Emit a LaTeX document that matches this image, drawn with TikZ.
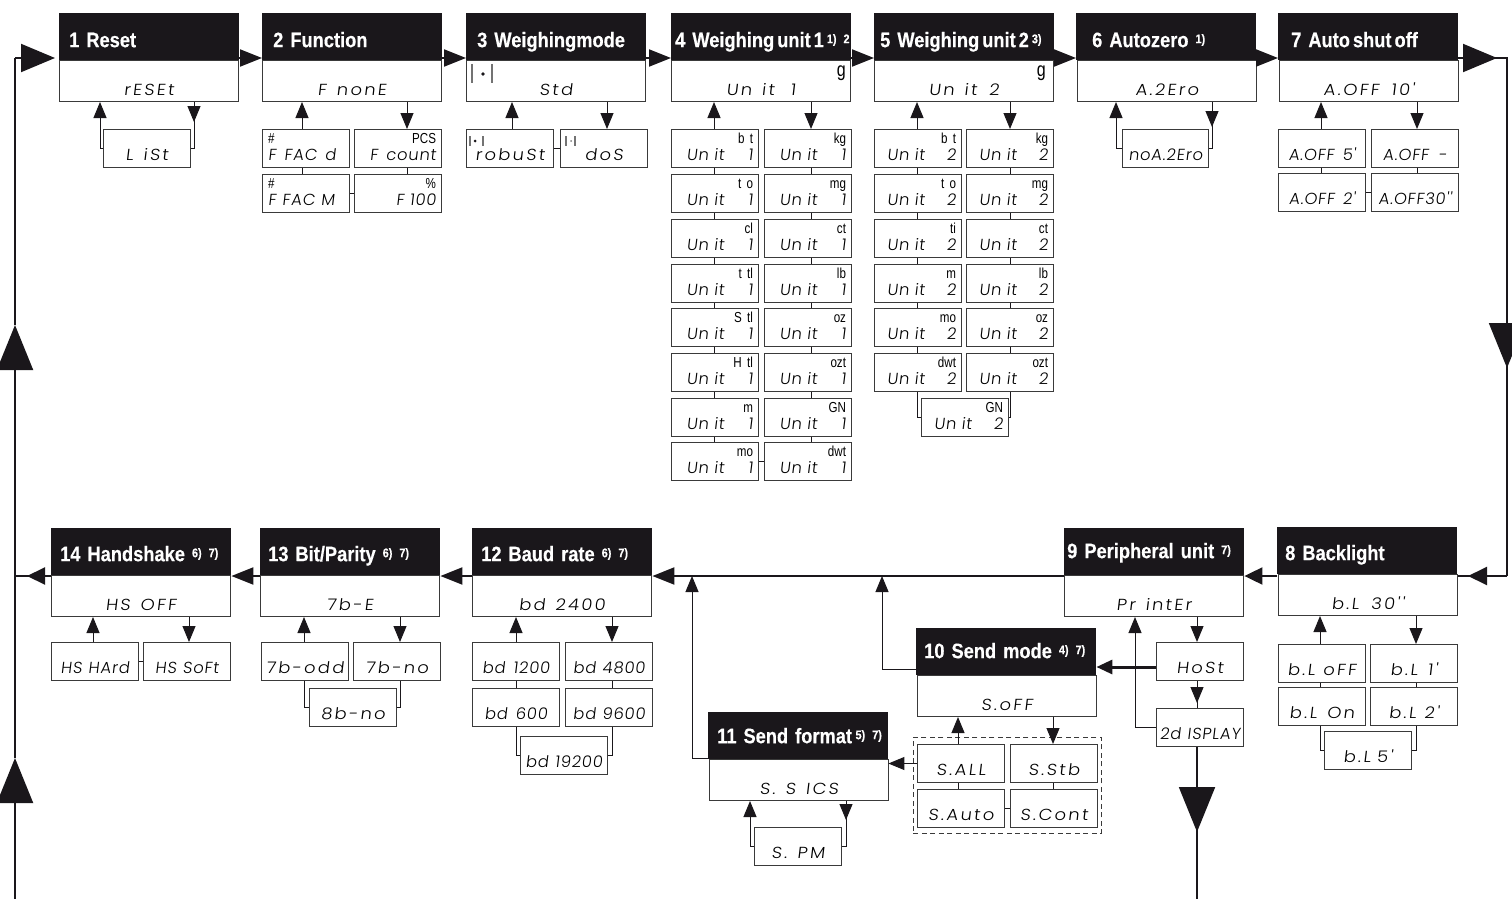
\documentclass[tikz,border=0pt]{standalone}
\usepackage{fontspec}
\usetikzlibrary{arrows.meta}
\newfontfamily\titlefont[FakeStretch=0.87,FakeBold=0.4]{Liberation Sans Bold}
\newfontfamily\unitfont[FakeStretch=0.8]{Liberation Sans}
\newfontfamily\lcdfont[FakeSlant=0.12,FakeStretch=1.12,LetterSpace=14,WordSpace=1.4]{Poppins Light}
\newfontfamily\lcdtight[FakeSlant=0.12,FakeStretch=1.02,LetterSpace=5,WordSpace=1.2]{Poppins Light}
\definecolor{inkblack}{HTML}{1A171B}
\definecolor{boxgray}{HTML}{3A3A3A}
\newcommand{\ulab}[1]{{\unitfont\fontsize{14.5}{14.5}\selectfont #1}}
\newcommand{\ftn}[1]{\raisebox{4pt}{\fontsize{12.5}{12.5}\selectfont #1}}
\newcommand{\unitone}{Un it\hspace{24pt}1\hspace*{7pt}}
\newcommand{\unittwo}{Un it\hspace{22pt}2\hspace*{7pt}}
\begin{document}
\begin{tikzpicture}[
    x=1pt, y=-1pt,
    titlebox/.style={
      fill=inkblack, text=white, anchor=north west, inner sep=0pt,
      text width=180pt, align=left, text height=34pt, text depth=13pt,
      font=\titlefont\fontsize{21}{21}\selectfont
    },
    lowtitle/.style={titlebox, text height=33pt, text depth=14pt},
    bodybox/.style={
      draw=boxgray, line width=1pt, fill=white, anchor=north west, inner sep=0pt,
      minimum width=179pt, text height=35pt, text depth=6pt,
      font=\lcdfont\fontsize{16}{17}\selectfont
    },
    lcdbox/.style={
      draw=boxgray, line width=1pt, fill=white, anchor=north west, inner sep=0pt,
      minimum width=87pt, text height=31pt, text depth=7pt,
      font=\lcdfont\fontsize{16}{17}\selectfont
    },
    tightbox/.style={lcdbox, font=\lcdtight\fontsize{16}{17}\selectfont},
    unitbox/.style={
      tightbox, text width=76pt, align=right, text height=14pt, text depth=24pt
    },
    gmark/.style={inner sep=0pt, anchor=north east, font=\unitfont\fontsize{20}{20}\selectfont},
    grpbox/.style={draw=boxgray, dash pattern=on 5pt off 3.5pt, line width=0.8pt, anchor=north west, inner sep=0pt},
    link/.style={draw=inkblack, line width=1pt},
    uptip/.style={link, -{Triangle[length=16pt,width=13pt]}},
    flowtip/.style={draw=inkblack, line width=2pt, -{Triangle[length=22pt,width=17pt]}},
    mainline/.style={draw=inkblack, line width=2pt},
    bigtip/.style={mainline, -{Triangle[length=45pt,width=36pt]}},
    widetip/.style={mainline, -{Triangle[length=34pt,width=28pt]}},
    panbar/.style={line width=1.2pt, black!55}
  ]
  \clip (0,0) rectangle (1512,899);
  \coordinate (rowa) at (0,58);
  \coordinate (rowb) at (0,576);

  % upper row
  \node[titlebox] (t1) at (59,13) {\hspace*{10pt}1 Reset};
  \node[titlebox] (t2) at (262,13) {\hspace*{11pt}2 Function};
  \node[titlebox] (t3) at (466,13) {\hspace*{11pt}3 Weighingmode};
  \node[titlebox] (t4) at (671,13) {\hspace*{4pt}4 Weighing\hspace{3pt}unit\hspace{3pt}1\hspace{3pt}\rlap{\ftn{1) 2}}};
  \node[titlebox] (t5) at (874,13) {\hspace*{6pt}5 Weighing\hspace{3pt}unit\hspace{3pt}2\hspace{3pt}\ftn{3)}};
  \node[titlebox] (t6) at (1076,13) {\hspace*{16pt}6 Autozero \ftn{1)}};
  \node[titlebox] (t7) at (1278,13) {\hspace*{13pt}7 Auto\hspace{3pt}shut\hspace{3pt}off};

  \node[bodybox] (reset) at (59,60) {rESEt};
  \node[bodybox] (fnone) at (262,60) {F nonE};
  \node[bodybox] (std) at (466,60) {Std};
  \node[bodybox] (unita) at (671,60) {Un it\hspace{16pt}1};
  \node[bodybox] (unitb) at (874,60) {Un it\hspace{12pt}2};
  \node[bodybox] (azero) at (1077,60) {A.2Ero};
  \node[bodybox] (aoff) at (1279,60) {A.OFF\hspace{12pt}10'};
  \node[gmark] (ga) at (846,66) {g};
  \node[gmark] (gb) at (1046,66) {g};

  \node[lcdbox] (list) at (103,129) {L iSt};
  \node[unitbox, align=left] (ffacd) at (262,129) {\ulab{\#}\\F\hspace{8pt}FAC\hspace{8pt}d};
  \node[unitbox] (fcount) at (354,129) {\ulab{PCS}\\F\hspace{8pt}count};
  \node[unitbox, align=left] (ffacm) at (262,174) {\ulab{\#}\\F\hspace{6pt}FAC\hspace{6pt}M};
  \node[unitbox] (fhund) at (354,174) {\ulab{\%}\\F 100\hspace*{13pt}};
  \node[lcdbox] (robust) at (466,129) {robuSt};
  \node[lcdbox] (dos) at (560,129) {doS};
  \node[tightbox, minimum width=86pt] (nozero) at (1122,129) {noA.2Ero};
  \node[tightbox] (off5) at (1278,129) {A.OFF\hspace{8pt}5'};
  \node[tightbox] (offd) at (1371,129) {A.OFF\hspace{10pt}-};
  \node[tightbox] (off2) at (1278,173) {A.OFF\hspace{8pt}2'};
  \node[tightbox] (off30) at (1371,173) {A.OFF30''};

  % unit columns
  \node[unitbox] (aa) at (671,129) {\ulab{b t}\\\unitone};
  \node[unitbox] (ab) at (671,174) {\ulab{t o}\\\unitone};
  \node[unitbox] (ac) at (671,219) {\ulab{cl}\\\unitone};
  \node[unitbox] (ad) at (671,264) {\ulab{t tl}\\\unitone};
  \node[unitbox] (ae) at (671,308) {\ulab{S tl}\\\unitone};
  \node[unitbox] (af) at (671,353) {\ulab{H tl}\\\unitone};
  \node[unitbox] (ag) at (671,398) {\ulab{m}\\\unitone};
  \node[unitbox] (ah) at (671,442) {\ulab{mo}\\\unitone};
  \node[unitbox] (ba) at (764,129) {\ulab{kg}\\\unitone};
  \node[unitbox] (bb) at (764,174) {\ulab{mg}\\\unitone};
  \node[unitbox] (bc) at (764,219) {\ulab{ct}\\\unitone};
  \node[unitbox] (bd) at (764,264) {\ulab{lb}\\\unitone};
  \node[unitbox] (be) at (764,308) {\ulab{oz}\\\unitone};
  \node[unitbox] (bf) at (764,353) {\ulab{ozt}\\\unitone};
  \node[unitbox] (bg) at (764,398) {\ulab{GN}\\\unitone};
  \node[unitbox] (bh) at (764,442) {\ulab{dwt}\\\unitone};
  \node[unitbox] (ca) at (874,129) {\ulab{b t}\\\unittwo};
  \node[unitbox] (cb) at (874,174) {\ulab{t o}\\\unittwo};
  \node[unitbox] (cc) at (874,219) {\ulab{ti}\\\unittwo};
  \node[unitbox] (cd) at (874,264) {\ulab{m}\\\unittwo};
  \node[unitbox] (ce) at (874,308) {\ulab{mo}\\\unittwo};
  \node[unitbox] (cf) at (874,353) {\ulab{dwt}\\\unittwo};
  \node[unitbox] (da) at (966,129) {\ulab{kg}\\\unittwo};
  \node[unitbox] (db) at (966,174) {\ulab{mg}\\\unittwo};
  \node[unitbox] (dc) at (966,219) {\ulab{ct}\\\unittwo};
  \node[unitbox] (dd) at (966,264) {\ulab{lb}\\\unittwo};
  \node[unitbox] (de) at (966,308) {\ulab{oz}\\\unittwo};
  \node[unitbox] (df) at (966,353) {\ulab{ozt}\\\unittwo};
  \node[unitbox] (gn) at (921,398) {\ulab{GN}\\\unittwo};

  % lower row
  \node[lowtitle] (t8) at (1277,527) {\hspace*{8pt}8 Backlight};
  \node[lowtitle, text height=30pt, text depth=17pt] (t9) at (1064,528) {\hspace*{3pt}9 Peripheral unit \ftn{7)}};
  \node[lowtitle, text height=30pt, text depth=17pt] (t10) at (916,628) {\hspace*{8pt}10 Send mode \ftn{4) 7)}};
  \node[lowtitle, text height=31pt, text depth=16pt] (t11) at (708,712) {\hspace*{9pt}11 Send format\,\ftn{5) 7)}};
  \node[lowtitle] (t12) at (472,528) {\hspace*{9pt}12 Baud rate \ftn{6) 7)}};
  \node[lowtitle] (t13) at (260,528) {\hspace*{8pt}13 Bit/Parity \ftn{6) 7)}};
  \node[lowtitle] (t14) at (51,528) {\hspace*{9pt}14 Handshake \ftn{6) 7)}};

  \node[bodybox] (bl) at (1278,574) {b.L\hspace{12pt}30''};
  \node[bodybox] (printer) at (1064,575) {Pr intEr};
  \node[bodybox] (soff) at (917,675) {S.oFF};
  \node[bodybox] (ssics) at (709,759) {S. S ICS};
  \node[bodybox] (bdrate) at (472,575) {bd 2400};
  \node[bodybox] (bitpar) at (260,575) {7b-E};
  \node[bodybox] (hsoff) at (51,575) {HS OFF};

  \node[lcdbox] (bloff) at (1278,644) {b.L\hspace{8pt}oFF};
  \node[lcdbox] (blone) at (1370,644) {b.L\hspace{10pt}1'};
  \node[lcdbox] (blon) at (1278,687) {b.L On};
  \node[lcdbox] (bltwo) at (1370,687) {b.L\hspace{8pt}2'};
  \node[lcdbox] (blfive) at (1324,731) {b.L\hspace{6pt}5'};
  \node[lcdbox] (host) at (1156,642) {HoSt};
  \node[tightbox] (disp) at (1156,708) {2d ISPLAY};
  \node[grpbox, minimum width=188pt, minimum height=96pt] (sgrp) at (913,737) {};
  \node[lcdbox] (sall) at (917,744) {S.ALL};
  \node[lcdbox] (sstb) at (1010,744) {S.Stb};
  \node[lcdbox] (sauto) at (917,789) {S.Auto};
  \node[lcdbox] (scont) at (1010,789) {S.Cont};
  \node[lcdbox] (spm) at (754,827) {S. PM};
  \node[tightbox] (bda) at (472,642) {bd\hspace{8pt}1200};
  \node[tightbox] (bdb) at (565,642) {bd 4800};
  \node[tightbox] (bdc) at (472,688) {bd\hspace{8pt}600};
  \node[tightbox] (bdd) at (565,688) {bd 9600};
  \node[tightbox] (bde) at (520,736) {bd 19200};
  \node[lcdbox] (oddb) at (261,642) {7b-odd};
  \node[lcdbox] (nob) at (353,642) {7b-no};
  \node[lcdbox] (eightb) at (309,688) {8b-no};
  \node[tightbox] (hshard) at (51,642) {HS HArd};
  \node[tightbox] (hssoft) at (143,642) {HS SoFt};

  % balance marks
  \draw[panbar] (472,64) -- (472,83) (492,64) -- (492,83);
  \fill[inkblack] (483,74) circle (1.8pt);
  \draw[panbar] (470,136) -- (470,146) (483,136) -- (483,146);
  \fill[inkblack] (475,141) circle (1.5pt);
  \draw[panbar] (566,136) -- (566,146) (575,136) -- (575,146);
  \fill[black!50] (571,141) circle (1pt);

  % flow upper row
  \coordinate (lfoot) at (15,899);
  \coordinate (lmid) at (15,758);
  \coordinate (lup) at (15,325);
  \coordinate (ltop) at (15,58);
  \coordinate (rtop) at (1507,58);
  \coordinate (rmid) at (1507,368);
  \coordinate (rfoot) at (1507,576);
  \coordinate (dfoot) at (1197,899);
  \coordinate (lbase) at (15,576);
  \draw[bigtip] (lfoot) -- (lmid);
  \draw[bigtip] (lmid) -- (lup);
  \draw[mainline] (lup) -- (ltop);
  \draw[widetip, shorten >=4pt] (ltop) -- (t1.west |- rowa);
  \draw[flowtip] (t1.east |- rowa) -- (t2.west |- rowa);
  \draw[flowtip] (t2.east |- rowa) -- (t3.west |- rowa);
  \draw[flowtip] (t3.east |- rowa) -- (t4.west |- rowa);
  \draw[flowtip] (t4.east |- rowa) -- (t5.west |- rowa);
  \draw[flowtip] (t5.east |- rowa) -- (t6.west |- rowa);
  \draw[flowtip] (t6.east |- rowa) -- (t7.west |- rowa);
  \draw[widetip, shorten >=10pt] (t7.east |- rowa) -- (rtop);
  \draw[mainline] (t7.east |- rowa) -- (rtop) -- (rfoot);
  \draw[bigtip] (rtop) -- (rmid);
  \draw[mainline] (rfoot) -- (bl.east |- rowb);
  \draw[mainline, -{Triangle[length=19pt,width=18pt]}, shorten >=10pt] (rfoot) -- (bl.east |- rowb);
  \draw[mainline, -{Triangle[length=18pt,width=17pt]}] (t8.west |- rowb) -- (t9.east |- rowb);
  \draw[flowtip] (t9.west |- rowb) -- (t12.east |- rowb);
  \draw[flowtip] (t12.west |- rowb) -- (t13.east |- rowb);
  \draw[flowtip] (t13.west |- rowb) -- (t14.east |- rowb);
  \draw[mainline] (t14.west |- rowb) -- (lbase);
  \draw[mainline, -{Triangle[length=18pt,width=17pt]}, shorten >=12pt] (t14.west |- rowb) -- (lbase);
  \draw[mainline] (disp.south -| dfoot) -- (dfoot);
  \draw[bigtip, shorten >=67pt] (disp.south -| dfoot) -- (dfoot);

  % loops upper row
  \draw[uptip] (list.west) -| (reset.south -| 100,0);
  \draw[link] (reset.south -| 194,0) |- (list.east);
  \draw[uptip, shorten >=7pt] (reset.south -| 194,0) -- (list.north -| 194,0);
  \draw[uptip] (ffacd.north -| 302,0) -- (fnone.south -| 302,0);
  \draw[uptip] (fnone.south -| 407,0) -- (fcount.north -| 407,0);
  \draw[link] (ffacd.south -| 302,0) -- (ffacm.north -| 302,0);
  \draw[link] (fcount.south -| 407,0) -- (fhund.north -| 407,0);
  \draw[link] (ffacm.east) -- (fhund.west);
  \draw[uptip] (robust.north -| 512,0) -- (std.south -| 512,0);
  \draw[uptip] (std.south -| 607,0) -- (dos.north -| 607,0);
  \draw[link] (robust.east) -- (dos.west);
  \draw[uptip] (aa.north -| 714,0) -- (unita.south -| 714,0);
  \draw[uptip] (unita.south -| 811,0) -- (ba.north -| 811,0);
  \draw[uptip] (ca.north -| 917,0) -- (unitb.south -| 917,0);
  \draw[uptip] (unitb.south -| 1010,0) -- (da.north -| 1010,0);
  \draw[link] (aa.south -| 714,0) -- (ab.north -| 714,0) (ab.south -| 714,0) -- (ac.north -| 714,0)
    (ac.south -| 714,0) -- (ad.north -| 714,0) (ad.south -| 714,0) -- (ae.north -| 714,0)
    (ae.south -| 714,0) -- (af.north -| 714,0) (af.south -| 714,0) -- (ag.north -| 714,0)
    (ag.south -| 714,0) -- (ah.north -| 714,0);
  \draw[link] (ba.south -| 811,0) -- (bb.north -| 811,0) (bb.south -| 811,0) -- (bc.north -| 811,0)
    (bc.south -| 811,0) -- (bd.north -| 811,0) (bd.south -| 811,0) -- (be.north -| 811,0)
    (be.south -| 811,0) -- (bf.north -| 811,0) (bf.south -| 811,0) -- (bg.north -| 811,0)
    (bg.south -| 811,0) -- (bh.north -| 811,0);
  \draw[link] (ah.east) -- (bh.west);
  \draw[link] (ca.south -| 917,0) -- (cb.north -| 917,0) (cb.south -| 917,0) -- (cc.north -| 917,0)
    (cc.south -| 917,0) -- (cd.north -| 917,0) (cd.south -| 917,0) -- (ce.north -| 917,0)
    (ce.south -| 917,0) -- (cf.north -| 917,0) (cf.south -| 917,0) |- (gn.west);
  \draw[link] (da.south -| 1010,0) -- (db.north -| 1010,0) (db.south -| 1010,0) -- (dc.north -| 1010,0)
    (dc.south -| 1010,0) -- (dd.north -| 1010,0) (dd.south -| 1010,0) -- (de.north -| 1010,0)
    (de.south -| 1010,0) -- (df.north -| 1010,0) (df.south -| 1010,0) |- (gn.east);
  \draw[uptip] (nozero.west) -| (azero.south -| 1116,0);
  \draw[link] (azero.south -| 1212,0) |- (nozero.east);
  \draw[uptip, shorten >=2pt] (azero.south -| 1212,0) -- (nozero.north -| 1212,0);
  \draw[uptip] (off5.north -| 1321,0) -- (aoff.south -| 1321,0);
  \draw[uptip] (aoff.south -| 1417,0) -- (offd.north -| 1417,0);
  \draw[link] (off5.south -| 1321,0) -- (off2.north -| 1321,0);
  \draw[link] (offd.south -| 1417,0) -- (off30.north -| 1417,0);
  \draw[link] (off2.east) -- (off30.west);

  % loops lower row
  \draw[uptip] (bloff.north -| 1320,0) -- (bl.south -| 1320,0);
  \draw[uptip] (bl.south -| 1416,0) -- (blone.north -| 1416,0);
  \draw[link] (bloff.south -| 1320,0) -- (blon.north -| 1320,0);
  \draw[link] (blone.south -| 1416,0) -- (bltwo.north -| 1416,0);
  \draw[link] (blon.south -| 1320,0) |- (blfive.west);
  \draw[link] (bltwo.south -| 1416,0) |- (blfive.east);
  \draw[uptip] (printer.south -| 1197,0) -- (host.north -| 1197,0);
  \draw[link] (host.south -| 1197,0) -- (disp.north -| 1197,0);
  \draw[uptip, shorten >=5pt] (host.south -| 1197,0) -- (disp.north -| 1197,0);
  \draw[uptip] (disp.west) -| (printer.south -| 1135,0);
  \draw[draw=inkblack, line width=3pt, -{Triangle[length=16pt,width=14pt]}] (host.west |- 0,667) -- (t10.east |- 0,667);
  \draw[uptip] (t10.west |- 0,669) -| (rowb -| 882,0);
  \draw[uptip] (sall.north -| 958,0) -- (soff.south -| 958,0);
  \draw[uptip] (soff.south -| 1053,0) -- (sstb.north -| 1053,0);
  \draw[link] (sall.south -| 958,0) -- (sauto.north -| 958,0);
  \draw[link] (sstb.south -| 1053,0) -- (scont.north -| 1053,0);
  \draw[link] (sauto.east) -- (scont.west);
  \draw[uptip] (sall.west) -- (t11.east |- sall.west);
  \draw[uptip] (t11.west |- 0,758) -| (rowb -| 692,0);
  \draw[uptip] (spm.west) -| (ssics.south -| 750,0);
  \draw[link] (ssics.south -| 846,0) |- (spm.east);
  \draw[uptip, shorten >=7pt] (ssics.south -| 846,0) -- (spm.north -| 846,0);
  \draw[uptip] (bda.north -| 516,0) -- (bdrate.south -| 516,0);
  \draw[uptip] (bdrate.south -| 612,0) -- (bdb.north -| 612,0);
  \draw[link] (bda.south -| 516,0) -- (bdc.north -| 516,0);
  \draw[link] (bdb.south -| 612,0) -- (bdd.north -| 612,0);
  \draw[link] (bdc.south -| 516,0) |- (bde.west);
  \draw[link] (bdd.south -| 612,0) |- (bde.east);
  \draw[uptip] (oddb.north -| 304,0) -- (bitpar.south -| 304,0);
  \draw[uptip] (bitpar.south -| 400,0) -- (nob.north -| 400,0);
  \draw[link] (oddb.south -| 304,0) |- (eightb.west);
  \draw[link] (nob.south -| 400,0) |- (eightb.east);
  \draw[uptip] (hshard.north -| 93,0) -- (hsoff.south -| 93,0);
  \draw[uptip] (hsoff.south -| 189,0) -- (hssoft.north -| 189,0);
  \draw[link] (hshard.east) -- (hssoft.west);
\end{tikzpicture}
\end{document}
